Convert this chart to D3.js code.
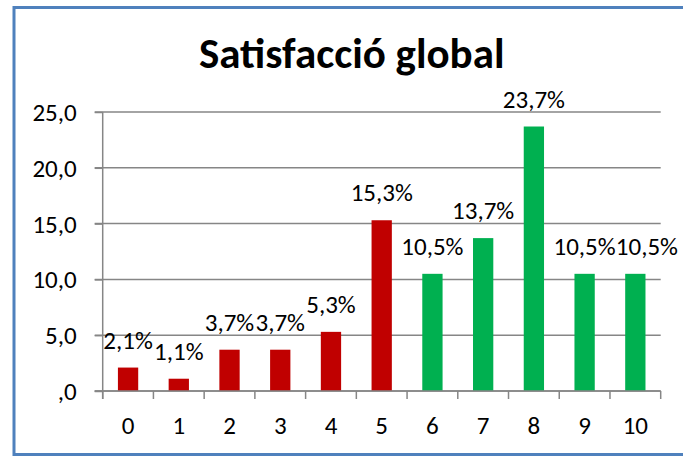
<!DOCTYPE html>
<html>
<head>
<meta charset="utf-8">
<script src="https://cdn.jsdelivr.net/npm/d3@7"></script>
<style>
  body { margin: 0; background: #fff; }
  svg text { font-family: Carlito, "Liberation Sans", Arial, sans-serif; fill: #000; }
</style>
</head>
<body>
<script>
// dades del grafic
var titol = "Satisfacció global";
var categories = ["0", "1", "2", "3", "4", "5", "6", "7", "8", "9", "10"];
var valors = [2.1, 1.1, 3.7, 3.7, 5.3, 15.3, 10.5, 13.7, 23.7, 10.5, 10.5];
var ticksY = [0, 5, 10, 15, 20, 25];

var vis = {
    width: 683,
    height: 457,
    left: 102.7,
    right: 660.7,
    top: 112,
    bottom: 391,
    font: "25px"
};

var svg = d3.select("body")
    .append("svg")
    .attr("width", vis.width)
    .attr("height", vis.height);

// marc blau del grafic
svg.append("rect")
    .attr("x", 14)
    .attr("y", 7.5)
    .attr("width", 700)
    .attr("height", 447)
    .attr("fill", "none")
    .attr("stroke", "#4F81BD")
    .attr("stroke-width", 3);

// escales
var x = d3.scaleBand()
    .domain(categories)
    .range([vis.left, vis.right])
    .paddingInner(0.6)
    .paddingOuter(0.3);

var y = d3.scaleLinear()
    .domain([0, 25])
    .range([vis.bottom, vis.top]);

// el vermell fins al 5, el verd a partir del 6
var color = d3.scaleThreshold()
    .domain([6])
    .range(["#C00000", "#00B050"]);

// linies de quadricula
svg.append("g")
    .selectAll("line")
    .data(ticksY)
    .enter()
    .append("line")
    .attr("x1", vis.left - 8)
    .attr("x2", vis.right)
    .attr("y1", function(d) { return y(d); })
    .attr("y2", function(d) { return y(d); })
    .attr("stroke", "#868686")
    .attr("stroke-width", 1.5);

// eix Y
var eixY = d3.axisLeft(y)
    .tickValues(ticksY)
    .tickSize(8)
    .tickPadding(18)
    .tickFormat(function(d) {
        return d === 0 ? ",0" : d3.format(".1f")(d).replace(".", ",");
    });

var gY = svg.append("g")
    .attr("transform", "translate(" + vis.left + ",0)")
    .call(eixY);
gY.select(".domain").remove();
gY.selectAll("line").attr("stroke", "#868686").attr("stroke-width", 1.5);
gY.selectAll("text").style("font-size", vis.font).attr("dy", "0.34em");

svg.append("line")
    .attr("x1", vis.left).attr("x2", vis.left)
    .attr("y1", vis.top).attr("y2", vis.bottom + 8)
    .attr("stroke", "#868686")
    .attr("stroke-width", 1.5);

// marques de l'eix X entre categories
var limits = d3.range(categories.length + 1).map(function(i) {
    return x.range()[0] + i * x.step();
});
svg.append("g")
    .selectAll("line")
    .data(limits)
    .enter()
    .append("line")
    .attr("x1", function(d) { return d; })
    .attr("x2", function(d) { return d; })
    .attr("y1", vis.bottom)
    .attr("y2", vis.bottom + 8)
    .attr("stroke", "#868686")
    .attr("stroke-width", 1.5);

// barres
svg.append("g")
    .selectAll("rect")
    .data(valors)
    .enter()
    .append("rect")
    .attr("x", function(d, i) { return x(categories[i]); })
    .attr("y", function(d) { return y(d); })
    .attr("width", x.bandwidth())
    .attr("height", function(d) { return y(0) - y(d); })
    .attr("fill", function(d, i) { return color(+categories[i]); });

// eix X (es dibuixa despres de les barres)
svg.append("line")
    .attr("x1", vis.left - 8).attr("x2", vis.right)
    .attr("y1", vis.bottom).attr("y2", vis.bottom)
    .attr("stroke", "#868686")
    .attr("stroke-width", 1.5);

svg.append("g")
    .selectAll("text")
    .data(categories)
    .enter()
    .append("text")
    .attr("x", function(d) { return x(d) + x.bandwidth() / 2; })
    .attr("y", 434)
    .attr("text-anchor", "middle")
    .style("font-size", vis.font)
    .text(function(d) { return d; });

// etiquetes de valor
var etiquetes = svg.append("g")
    .selectAll("text")
    .data(valors)
    .enter()
    .append("text")
    .attr("x", function(d, i) { return x(categories[i]) + x.bandwidth() / 2; })
    .attr("y", function(d) { return y(d) - 19; })
    .attr("text-anchor", "middle")
    .style("font-size", vis.font)
    .text(function(d) { return d3.format(".1f")(d).replace(".", ",") + "%"; });

// com fa l'Excel: si una etiqueta trepitja l'anterior a la mateixa alcada, es desplaca a la dreta
var anterior = null;
etiquetes.each(function(d) {
    var caixa = this.getBBox();
    if (anterior && Math.abs(anterior.y - caixa.y) < 5 && caixa.x < anterior.x + anterior.width) {
        var desp = anterior.x + anterior.width - caixa.x;
        d3.select(this).attr("x", +d3.select(this).attr("x") + desp);
        caixa = this.getBBox();
    }
    anterior = caixa;
});

// titol
svg.append("text")
    .attr("x", 351.7)
    .attr("y", 68)
    .attr("text-anchor", "middle")
    .style("font-size", "43px")
    .style("font-weight", "bold")
    .text(titol);
</script>
</body>
</html>
